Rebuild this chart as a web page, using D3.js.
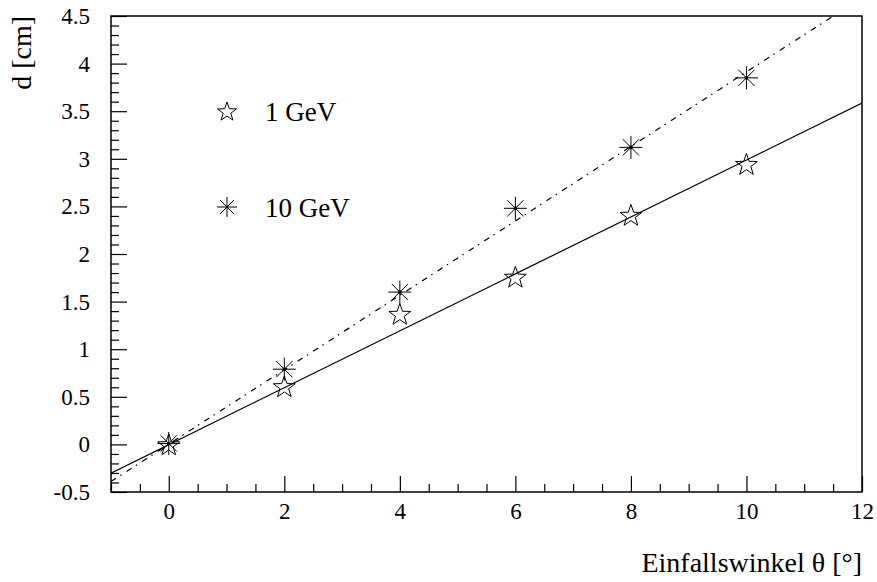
<!DOCTYPE html>
<html>
<head>
<meta charset="utf-8">
<script src="https://cdn.jsdelivr.net/npm/d3@7"></script>
<style>
  html, body { margin: 0; padding: 0; background: #fff; }
  svg { display: block; }
  text { font-family: "Liberation Serif", "DejaVu Serif", "Times New Roman", Times, serif; fill: #000; }
</style>
</head>
<body>
<svg id="chart" width="877" height="582"></svg>
<script>
// Incidence angle (degrees) of the measured points
const angles = [0, 2, 4, 6, 8, 10];
// Displacement d [cm] for 1 GeV and 10 GeV particles
const d1GeV = [0.00, 0.61, 1.37, 1.76, 2.41, 2.945];
const d10GeV = [0.01, 0.79, 1.60, 2.48, 3.12, 3.85];
// Straight-line fits: [slope, intercept]
const fit1GeV = [0.299, -0.003];
const fit10GeV = [0.391, 0.002];
// Axis ticks
const xMajorTicks = [0, 2, 4, 6, 8, 10, 12];
const yTickLabels = ["-0.5", "0", "0.5", "1", "1.5", "2", "2.5", "3", "3.5", "4", "4.5"];
const seriesLabels = ["1 GeV", "10 GeV"];

const frame = { left: 111, right: 862, top: 16, bottom: 492 };

const svg = d3.select("#chart");

const x = d3.scaleLinear().domain([-1, 12]).range([frame.left, frame.right]);
const y = d3.scaleLinear().domain([-0.5, 4.5]).range([frame.bottom, frame.top]);

// Clip for fitted lines
svg.append("defs").append("clipPath").attr("id", "plotClip")
  .append("rect")
  .attr("x", frame.left).attr("y", frame.top)
  .attr("width", frame.right - frame.left).attr("height", frame.bottom - frame.top);

// Frame
svg.append("rect")
  .attr("x", frame.left).attr("y", frame.top)
  .attr("width", frame.right - frame.left).attr("height", frame.bottom - frame.top)
  .attr("fill", "none").attr("stroke", "#000").attr("stroke-width", 1.5);

// Minor ticks
const xMinor = d3.range(-1, 12.001, 0.5).filter(v => v % 2 !== 0);
const yMajorVals = yTickLabels.map(Number);
const yMinor = d3.range(-0.5, 4.5001, 0.1)
  .map(v => Math.round(v * 10) / 10)
  .filter(v => !yMajorVals.some(m => Math.abs(m - v) < 1e-6));

svg.append("g")
  .attr("transform", `translate(0,${frame.bottom})`)
  .call(d3.axisBottom(x).tickValues(xMinor).tickSizeInner(-8).tickSizeOuter(0).tickFormat(""))
  .call(g => g.select(".domain").remove())
  .call(g => g.selectAll("line").attr("stroke-width", 1.2));

svg.append("g")
  .attr("transform", `translate(${frame.left},0)`)
  .call(d3.axisLeft(y).tickValues(yMinor).tickSizeInner(-8).tickSizeOuter(0).tickFormat(""))
  .call(g => g.select(".domain").remove())
  .call(g => g.selectAll("line").attr("stroke-width", 1.2));

// Major ticks with labels
svg.append("g")
  .attr("transform", `translate(0,${frame.bottom})`)
  .call(d3.axisBottom(x).tickValues(xMajorTicks).tickSizeInner(-16).tickSizeOuter(0)
    .tickPadding(0).tickFormat(d3.format("d")))
  .call(g => g.select(".domain").remove())
  .call(g => g.selectAll("line").attr("stroke-width", 1.2))
  .call(g => g.selectAll("text")
    .attr("y", 27).attr("dy", null)
    .attr("font-size", 23));

svg.append("g")
  .attr("transform", `translate(${frame.left},0)`)
  .call(d3.axisLeft(y).tickValues(yMajorVals).tickSizeInner(-16).tickSizeOuter(0)
    .tickPadding(0).tickFormat((d, i) => yTickLabels[i]))
  .call(g => g.select(".domain").remove())
  .call(g => g.selectAll("line").attr("stroke-width", 1.2))
  .call(g => g.selectAll("text")
    .attr("x", -21).attr("dy", "0.33em")
    .attr("font-size", 23));

// Fitted lines
const fitLine = (coef) => d3.line()
  .x(d => x(d))
  .y(d => y(coef[0] * d + coef[1]))([-1, 12]);

svg.append("path")
  .attr("d", fitLine(fit1GeV))
  .attr("clip-path", "url(#plotClip)")
  .attr("fill", "none").attr("stroke", "#000").attr("stroke-width", 1.2);

svg.append("path")
  .attr("d", fitLine(fit10GeV))
  .attr("clip-path", "url(#plotClip)")
  .attr("fill", "none").attr("stroke", "#000").attr("stroke-width", 1.2)
  .attr("stroke-dasharray", "6,5,1.5,6");

// Marker shapes
function starPath(cx, cy, R) {
  const r = R * 0.4;
  const p = d3.path();
  for (let k = 0; k < 10; k++) {
    const a = -Math.PI / 2 + k * Math.PI / 5;
    const rad = k % 2 === 0 ? R : r;
    const px = cx + rad * Math.cos(a), py = cy + rad * Math.sin(a);
    if (k === 0) p.moveTo(px, py); else p.lineTo(px, py);
  }
  p.closePath();
  return p.toString();
}
function asteriskPath(cx, cy, R) {
  const p = d3.path();
  for (let k = 0; k < 4; k++) {
    const a = k * Math.PI / 4;
    p.moveTo(cx - R * Math.cos(a), cy - R * Math.sin(a));
    p.lineTo(cx + R * Math.cos(a), cy + R * Math.sin(a));
  }
  return p.toString();
}

const pts1 = angles.map((a, i) => ({ a, v: d1GeV[i] }));
const pts10 = angles.map((a, i) => ({ a, v: d10GeV[i] }));

svg.append("g").selectAll("path").data(pts1).join("path")
  .attr("d", d => starPath(x(d.a), y(d.v) + 1, 11.5))
  .attr("fill", "none").attr("stroke", "#000").attr("stroke-width", 1);

const ast = svg.append("g");
ast.selectAll("path").data(pts10).join("path")
  .attr("d", d => asteriskPath(x(d.a), y(d.v), 11.5))
  .attr("fill", "none").attr("stroke", "#000").attr("stroke-width", 1);
ast.selectAll("circle").data(pts10).join("circle")
  .attr("cx", d => x(d.a)).attr("cy", d => y(d.v)).attr("r", 1.8).attr("fill", "#000");

// Legend
const legend = svg.append("g");
const legendX = 227, legendY = [111, 207];
legend.append("path")
  .attr("d", starPath(legendX, legendY[0] + 1, 10))
  .attr("fill", "none").attr("stroke", "#000").attr("stroke-width", 1);
legend.append("path")
  .attr("d", asteriskPath(legendX, legendY[1], 10))
  .attr("fill", "none").attr("stroke", "#000").attr("stroke-width", 1);
legend.selectAll("text").data(seriesLabels).join("text")
  .attr("x", 265).attr("y", (d, i) => legendY[i] + 10)
  .attr("font-size", 27)
  .text(d => d);

// Axis titles
svg.append("text")
  .attr("x", frame.right).attr("y", 572)
  .attr("text-anchor", "end").attr("font-size", 28)
  .text("Einfallswinkel θ [°]");

svg.append("text")
  .attr("transform", `translate(31,${frame.top}) rotate(-90)`)
  .attr("text-anchor", "end").attr("font-size", 28)
  .text("d [cm]");
</script>
</body>
</html>
